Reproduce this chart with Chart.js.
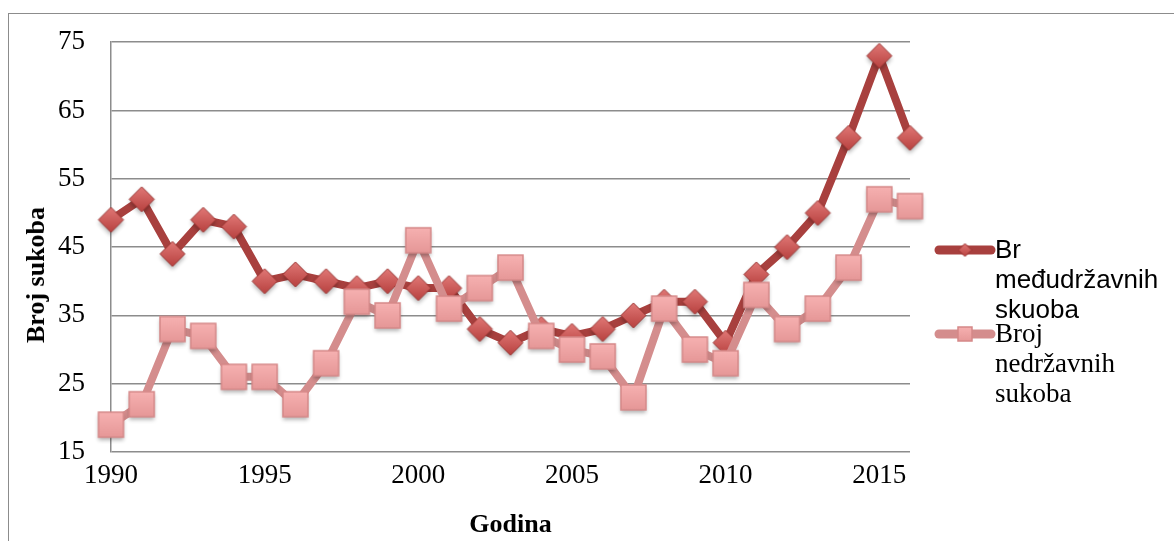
<!DOCTYPE html>
<html>
<head>
<meta charset="utf-8">
<script src="https://cdn.jsdelivr.net/npm/chart.js@4/dist/chart.umd.min.js"></script>
<style>
    html, body { margin: 0; padding: 0; background: #fff; }
    #wrap { position: relative; width: 1174px; height: 541px; overflow: hidden; }
    #frame { position: absolute; left: 8px; top: 13px; width: 1200px; height: 600px; border: 1px solid #8c8c8c; }
    #chart { position: absolute; left: 0; top: 0; }
    #ytitle { position: absolute; left: 36px; top: 275px; transform: translate(-50%, -50%) rotate(-90deg);
        font-family: 'Liberation Serif', serif; font-weight: bold; font-size: 26px; white-space: nowrap; color: #000; }
    .leg { position: absolute; left: 934px; }
    .leg canvas { position: absolute; left: 0; top: 0; }
    .leg .txt { position: absolute; left: 61px; top: -16px; line-height: 30px; color: #000; white-space: nowrap; }
</style>
</head>
<body>
<div id="wrap">
    <div id="frame"></div>
    <canvas id="chart" width="1174" height="541"></canvas>
    <div id="ytitle">Broj sukoba</div>
    <div class="leg" style="top: 250px;">
        <canvas id="leg1" width="62" height="30" style="top:-15px"></canvas>
        <div class="txt" style="font-family: 'Liberation Sans', Arial, sans-serif; font-size: 26px;">Br<br>međudržavnih<br>skuoba</div>
    </div>
    <div class="leg" style="top: 334px;">
        <canvas id="leg2" width="62" height="30" style="top:-15px"></canvas>
        <div class="txt" style="font-family: 'Liberation Serif', serif; font-size: 27px;">Broj<br>nedržavnih<br>sukoba</div>
    </div>
</div>
<script>
const years = [1990, 1991, 1992, 1993, 1994, 1995, 1996, 1997, 1998, 1999,
    2000, 2001, 2002, 2003, 2004, 2005, 2006, 2007, 2008, 2009,
    2010, 2011, 2012, 2013, 2014, 2015, 2016];
const interstate = [49, 52, 44, 49, 48, 40, 41, 40, 39, 40,
    39, 39, 33, 31, 33, 32, 33, 35, 37, 37,
    31, 41, 45, 50, 61, 73, 61];
const nonstate = [19, 22, 33, 32, 26, 26, 22, 28, 37, 35,
    46, 36, 39, 42, 32, 30, 29, 23, 36, 30,
    28, 38, 33, 36, 42, 52, 51];
const yTicks = [15, 25, 35, 45, 55, 65, 75];
const xTicks = [1990, 1995, 2000, 2005, 2010, 2015];

const darkLine = '#a8403e';
const pinkLine = '#d48d8d';
const serif = 'Liberation Serif';

// marker images, with a soft drop shadow like the original
function diamond(size, shadow) {
    const pad = shadow ? 6 : 0;
    const c = document.createElement('canvas');
    c.width = size + pad * 2; c.height = size + pad * 2;
    const g = c.getContext('2d');
    g.translate(pad, pad);
    const h = size / 2;
    const grad = g.createLinearGradient(0, 0, 0, size);
    grad.addColorStop(0, '#e27a78');
    grad.addColorStop(1, '#b63f3d');
    if (shadow) {
        g.shadowColor = 'rgba(0,0,0,0.3)';
        g.shadowBlur = 4;
        g.shadowOffsetY = 3;
    }
    g.beginPath();
    g.moveTo(h, 1); g.lineTo(size - 1, h); g.lineTo(h, size - 1); g.lineTo(1, h);
    g.closePath();
    g.fillStyle = grad; g.fill();
    g.shadowColor = 'transparent';
    g.lineWidth = 1; g.strokeStyle = '#9a3432'; g.stroke();
    return c;
}

function square(size, shadow) {
    const pad = shadow ? 6 : 0;
    const c = document.createElement('canvas');
    c.width = size + pad * 2; c.height = size + pad * 2;
    const g = c.getContext('2d');
    g.translate(pad, pad);
    const grad = g.createLinearGradient(0, 0, 0, size);
    grad.addColorStop(0, '#f7b2b2');
    grad.addColorStop(1, '#e59696');
    if (shadow) {
        g.shadowColor = 'rgba(0,0,0,0.3)';
        g.shadowBlur = 4;
        g.shadowOffsetY = 3;
    }
    g.fillStyle = grad;
    g.fillRect(1, 1, size - 2, size - 2);
    g.shadowColor = 'transparent';
    g.lineWidth = 1.5; g.strokeStyle = '#d58888';
    g.strokeRect(1, 1, size - 2, size - 2);
    return c;
}

const dmd = diamond(27, true);
const sq = square(27, true);

new Chart(document.getElementById('chart'), {
    type: 'line',
    data: {
        datasets: [
            {
                label: 'Br međudržavnih skuoba',
                data: years.map((y, i) => ({ x: y, y: interstate[i] })),
                borderColor: darkLine,
                borderWidth: 8,
                pointStyle: dmd,
                tension: 0,
                clip: false,
                order: 2
            },
            {
                label: 'Broj nedržavnih sukoba',
                data: years.map((y, i) => ({ x: y, y: nonstate[i] })),
                borderColor: pinkLine,
                borderWidth: 8,
                pointStyle: sq,
                tension: 0,
                clip: false,
                order: 1
            }
        ]
    },
    options: {
        responsive: false,
        animation: false,
        layout: { padding: { left: 19, right: 264, top: 40, bottom: 0 } },
        plugins: { legend: { display: false }, tooltip: { enabled: false } },
        scales: {
            x: {
                type: 'linear',
                min: 1990,
                max: 2016,
                afterBuildTicks: s => { s.ticks = xTicks.map(v => ({ value: v })); },
                afterFit: s => { s.height = 89; },
                grid: { display: false },
                border: { display: false },
                ticks: {
                    color: '#000',
                    font: { family: serif, size: 27 },
                    padding: 0,
                    maxRotation: 0,
                    callback: v => String(v)
                },
                title: {
                    display: true,
                    text: 'Godina',
                    color: '#000',
                    font: { family: serif, size: 26, weight: 'bold' },
                    padding: { top: 21, bottom: 0 }
                }
            },
            y: {
                min: 15,
                max: 75,
                afterBuildTicks: s => { s.ticks = yTicks.map(v => ({ value: v })); },
                afterFit: s => { s.width = 92; },
                grid: { color: '#8c8c8c', lineWidth: 1.5, drawTicks: false },
                border: { display: true, color: '#8c8c8c', width: 1.5 },
                ticks: {
                    color: '#000',
                    font: { family: serif, size: 27 },
                    padding: 26
                },
                title: { display: false }
            }
        }
    }
});

function legendIcon(id, color, marker) {
    const g = document.getElementById(id).getContext('2d');
    g.strokeStyle = color;
    g.lineWidth = 9;
    g.lineCap = 'round';
    g.beginPath(); g.moveTo(5, 15); g.lineTo(57, 15); g.stroke();
    g.drawImage(marker, 31 - marker.width / 2, 15 - marker.height / 2);
}
legendIcon('leg1', darkLine, diamond(15, false));
legendIcon('leg2', pinkLine, square(16, false));
</script>
</body>
</html>
